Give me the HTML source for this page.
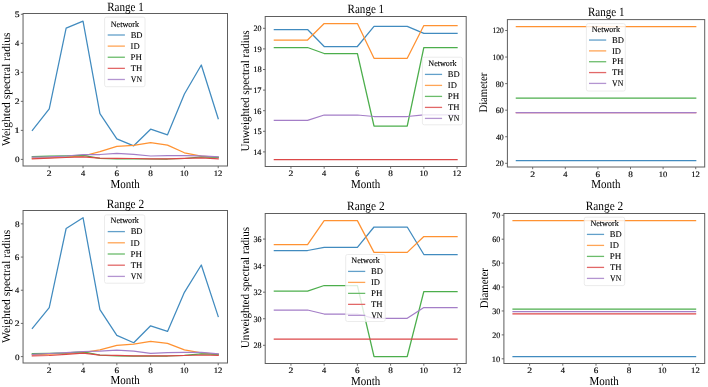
<!DOCTYPE html>
<html><head><meta charset="utf-8"><title>Network spectral radius and diameter by month</title>
<style>
html,body{margin:0;padding:0;background:#fff;}
body{width:708px;height:387px;overflow:hidden;}
svg{display:block;will-change:transform;}
text{font-family:"Liberation Serif",serif;fill:#000;text-rendering:geometricPrecision;}
.tk{stroke:#000;stroke-width:0.15px;}
.nw{stroke:#000;stroke-width:0.12px;}
.lg{stroke:#000;stroke-width:0.1px;}
</style></head><body>
<svg width="708" height="387" viewBox="0 0 708 387">
<rect width="708" height="387" fill="#fff"/>
<polyline points="32.34,130.3 49.24,108.9 66.14,28.1 83.03,21.2 99.93,113.7 116.83,138.9 133.72,145.8 150.62,129.2 167.52,134.8 184.41,94 201.31,65 218.21,118.6" fill="none" stroke="#418bbf" stroke-width="1.25" stroke-linejoin="round" stroke-linecap="square"/>
<polyline points="32.34,158 49.24,157.6 66.14,157 83.03,156 99.93,151.7 116.83,146.3 133.72,145.4 150.62,142.6 167.52,145.1 184.41,152.8 201.31,156.2 218.21,157.4" fill="none" stroke="#ff9232" stroke-width="1.25" stroke-linejoin="round" stroke-linecap="square"/>
<polyline points="32.34,156.5 49.24,156.2 66.14,155.9 83.03,155.3 99.93,158.3 116.83,159 133.72,158.9 150.62,159 167.52,159 184.41,158.5 201.31,156.8 218.21,157.3" fill="none" stroke="#4cae4c" stroke-width="1.25" stroke-linejoin="round" stroke-linecap="square"/>
<polyline points="32.34,158.9 49.24,158.2 66.14,157.5 83.03,156.8 99.93,158.2 116.83,158.4 133.72,158.5 150.62,158.8 167.52,158.8 184.41,158.3 201.31,157.9 218.21,158.8" fill="none" stroke="#dc4748" stroke-width="1.25" stroke-linejoin="round" stroke-linecap="square"/>
<polyline points="32.34,157.2 49.24,156.8 66.14,156 83.03,154.5 99.93,154.5 116.83,153.3 133.72,154.3 150.62,156 167.52,155.7 184.41,155.6 201.31,155.8 218.21,156.9" fill="none" stroke="#a47ec7" stroke-width="1.25" stroke-linejoin="round" stroke-linecap="square"/>
<rect x="104.6" y="17.1" width="40.4" height="69.6" rx="1.8" fill="#fff" fill-opacity="0.8" stroke="#e6e6e6" stroke-width="0.75"/>
<text x="110.72" y="26.5" font-size="8.5" textLength="28.33" lengthAdjust="spacingAndGlyphs" class="nw">Network</text>
<line x1="107.7" y1="35" x2="124.9" y2="35" stroke="#62a0ca" stroke-width="1.3"/>
<text x="130.65" y="37.75" font-size="8.8" textLength="11.89" lengthAdjust="spacingAndGlyphs" class="lg">BD</text>
<line x1="107.7" y1="46.12" x2="124.9" y2="46.12" stroke="#ffa556" stroke-width="1.3"/>
<text x="130.59" y="48.87" font-size="8.8" textLength="9.05" lengthAdjust="spacingAndGlyphs" class="lg">ID</text>
<line x1="107.7" y1="57.24" x2="124.9" y2="57.24" stroke="#6bbc6b" stroke-width="1.3"/>
<text x="130.64" y="59.99" font-size="8.8" textLength="11.42" lengthAdjust="spacingAndGlyphs" class="lg">PH</text>
<line x1="107.7" y1="68.36" x2="124.9" y2="68.36" stroke="#e26868" stroke-width="1.3"/>
<text x="130.74" y="71.11" font-size="8.8" textLength="11.51" lengthAdjust="spacingAndGlyphs" class="lg">TH</text>
<line x1="107.7" y1="79.48" x2="124.9" y2="79.48" stroke="#b495d1" stroke-width="1.3"/>
<text x="130.81" y="82.23" font-size="8.8" textLength="11.27" lengthAdjust="spacingAndGlyphs" class="lg">VN</text>
<rect x="23.05" y="13.5" width="204.45" height="152.5" fill="none" stroke="#5e5e5e" stroke-width="1.0"/>
<line x1="20.85" y1="159.4" x2="23.05" y2="159.4" stroke="#5e5e5e" stroke-width="0.9"/>
<text x="14.9" y="162.35" font-size="8.3" textLength="4.6" lengthAdjust="spacingAndGlyphs" class="tk">0</text>
<line x1="20.85" y1="130.38" x2="23.05" y2="130.38" stroke="#5e5e5e" stroke-width="0.9"/>
<text x="14.28" y="133.33" font-size="8.3" textLength="5.54" lengthAdjust="spacingAndGlyphs" class="tk">1</text>
<line x1="20.85" y1="101.36" x2="23.05" y2="101.36" stroke="#5e5e5e" stroke-width="0.9"/>
<text x="14.82" y="104.31" font-size="8.3" textLength="4.86" lengthAdjust="spacingAndGlyphs" class="tk">2</text>
<line x1="20.85" y1="72.34" x2="23.05" y2="72.34" stroke="#5e5e5e" stroke-width="0.9"/>
<text x="14.8" y="75.29" font-size="8.3" textLength="4.72" lengthAdjust="spacingAndGlyphs" class="tk">3</text>
<line x1="20.85" y1="43.32" x2="23.05" y2="43.32" stroke="#5e5e5e" stroke-width="0.9"/>
<text x="15.09" y="46.27" font-size="8.3" textLength="4.19" lengthAdjust="spacingAndGlyphs" class="tk">4</text>
<line x1="20.85" y1="14.3" x2="23.05" y2="14.3" stroke="#5e5e5e" stroke-width="0.9"/>
<text x="14.69" y="17.25" font-size="8.3" textLength="4.84" lengthAdjust="spacingAndGlyphs" class="tk">5</text>
<line x1="49.24" y1="166" x2="49.24" y2="168.2" stroke="#5e5e5e" stroke-width="0.9"/>
<text x="46.86" y="175.6" font-size="8.3" textLength="4.86" lengthAdjust="spacingAndGlyphs" class="tk">2</text>
<line x1="83.03" y1="166" x2="83.03" y2="168.2" stroke="#5e5e5e" stroke-width="0.9"/>
<text x="80.92" y="175.6" font-size="8.3" textLength="4.19" lengthAdjust="spacingAndGlyphs" class="tk">4</text>
<line x1="116.83" y1="166" x2="116.83" y2="168.2" stroke="#5e5e5e" stroke-width="0.9"/>
<text x="114.48" y="175.6" font-size="8.3" textLength="4.56" lengthAdjust="spacingAndGlyphs" class="tk">6</text>
<line x1="150.62" y1="166" x2="150.62" y2="168.2" stroke="#5e5e5e" stroke-width="0.9"/>
<text x="148.32" y="175.6" font-size="8.3" textLength="4.6" lengthAdjust="spacingAndGlyphs" class="tk">8</text>
<line x1="184.41" y1="166" x2="184.41" y2="168.2" stroke="#5e5e5e" stroke-width="0.9"/>
<text x="179.97" y="175.6" font-size="8.3" textLength="8.47" lengthAdjust="spacingAndGlyphs" class="tk">10</text>
<line x1="218.21" y1="166" x2="218.21" y2="168.2" stroke="#5e5e5e" stroke-width="0.9"/>
<text x="213.75" y="175.6" font-size="8.3" textLength="8.64" lengthAdjust="spacingAndGlyphs" class="tk">12</text>
<text x="107.16" y="10.7" font-size="12.5" textLength="36.58" lengthAdjust="spacingAndGlyphs">Range 1</text>
<text x="110.56" y="187.5" font-size="12.1" textLength="29.26" lengthAdjust="spacingAndGlyphs">Month</text>
<text transform="translate(10.1 146.01) rotate(-90)" x="0" y="0" font-size="11.7" textLength="113.42" lengthAdjust="spacingAndGlyphs">Weighted spectral radius</text>
<polyline points="274.34,29.5 290.95,29.5 307.56,29.5 324.17,46.5 340.78,46.5 357.39,46.5 374.01,26.4 390.62,26.4 407.23,26.4 423.84,33.3 440.45,33.3 457.06,33.3" fill="none" stroke="#418bbf" stroke-width="1.25" stroke-linejoin="round" stroke-linecap="square"/>
<polyline points="274.34,40 290.95,40 307.56,40 324.17,23.5 340.78,23.5 357.39,23.5 374.01,58.3 390.62,58.3 407.23,58.3 423.84,25.5 440.45,25.5 457.06,25.5" fill="none" stroke="#ff9232" stroke-width="1.25" stroke-linejoin="round" stroke-linecap="square"/>
<polyline points="274.34,47.5 290.95,47.5 307.56,47.5 324.17,53.5 340.78,53.5 357.39,53.5 374.01,126 390.62,126 407.23,126 423.84,47.5 440.45,47.5 457.06,47.5" fill="none" stroke="#4cae4c" stroke-width="1.25" stroke-linejoin="round" stroke-linecap="square"/>
<polyline points="274.34,159.5 290.95,159.5 307.56,159.5 324.17,159.5 340.78,159.5 357.39,159.5 374.01,159.5 390.62,159.5 407.23,159.5 423.84,159.5 440.45,159.5 457.06,159.5" fill="none" stroke="#dc4748" stroke-width="1.25" stroke-linejoin="round" stroke-linecap="square"/>
<polyline points="274.34,120.4 290.95,120.4 307.56,120.4 324.17,115 340.78,115 357.39,115 374.01,116.5 390.62,116.5 407.23,116.5 423.84,114.8 440.45,114.8 457.06,114.8" fill="none" stroke="#a47ec7" stroke-width="1.25" stroke-linejoin="round" stroke-linecap="square"/>
<rect x="422.4" y="57.2" width="40" height="67.6" rx="1.8" fill="#fff" fill-opacity="0.8" stroke="#e6e6e6" stroke-width="0.75"/>
<text x="428.32" y="65.9" font-size="8.5" textLength="28.33" lengthAdjust="spacingAndGlyphs" class="nw">Network</text>
<line x1="424.9" y1="74.4" x2="442.1" y2="74.4" stroke="#62a0ca" stroke-width="1.3"/>
<text x="447.85" y="77.15" font-size="8.8" textLength="11.89" lengthAdjust="spacingAndGlyphs" class="lg">BD</text>
<line x1="424.9" y1="85.4" x2="442.1" y2="85.4" stroke="#ffa556" stroke-width="1.3"/>
<text x="447.79" y="88.15" font-size="8.8" textLength="9.05" lengthAdjust="spacingAndGlyphs" class="lg">ID</text>
<line x1="424.9" y1="96.4" x2="442.1" y2="96.4" stroke="#6bbc6b" stroke-width="1.3"/>
<text x="447.84" y="99.15" font-size="8.8" textLength="11.42" lengthAdjust="spacingAndGlyphs" class="lg">PH</text>
<line x1="424.9" y1="107.4" x2="442.1" y2="107.4" stroke="#e26868" stroke-width="1.3"/>
<text x="447.94" y="110.15" font-size="8.8" textLength="11.51" lengthAdjust="spacingAndGlyphs" class="lg">TH</text>
<line x1="424.9" y1="118.4" x2="442.1" y2="118.4" stroke="#b495d1" stroke-width="1.3"/>
<text x="448.01" y="121.15" font-size="8.8" textLength="11.27" lengthAdjust="spacingAndGlyphs" class="lg">VN</text>
<rect x="265.2" y="16.5" width="201" height="150" fill="none" stroke="#5e5e5e" stroke-width="1.0"/>
<line x1="263" y1="151.9" x2="265.2" y2="151.9" stroke="#5e5e5e" stroke-width="0.9"/>
<text x="253.17" y="154.85" font-size="8.3" textLength="8.25" lengthAdjust="spacingAndGlyphs" class="tk">14</text>
<line x1="263" y1="131.3" x2="265.2" y2="131.3" stroke="#5e5e5e" stroke-width="0.9"/>
<text x="253.16" y="134.25" font-size="8.3" textLength="8.48" lengthAdjust="spacingAndGlyphs" class="tk">15</text>
<line x1="263" y1="110.7" x2="265.2" y2="110.7" stroke="#5e5e5e" stroke-width="0.9"/>
<text x="253.16" y="113.65" font-size="8.3" textLength="8.39" lengthAdjust="spacingAndGlyphs" class="tk">16</text>
<line x1="263" y1="90.1" x2="265.2" y2="90.1" stroke="#5e5e5e" stroke-width="0.9"/>
<text x="253.16" y="93.05" font-size="8.3" textLength="8.38" lengthAdjust="spacingAndGlyphs" class="tk">17</text>
<line x1="263" y1="69.5" x2="265.2" y2="69.5" stroke="#5e5e5e" stroke-width="0.9"/>
<text x="253.16" y="72.45" font-size="8.3" textLength="8.47" lengthAdjust="spacingAndGlyphs" class="tk">18</text>
<line x1="263" y1="48.9" x2="265.2" y2="48.9" stroke="#5e5e5e" stroke-width="0.9"/>
<text x="253.15" y="51.85" font-size="8.3" textLength="8.5" lengthAdjust="spacingAndGlyphs" class="tk">19</text>
<line x1="263" y1="28.3" x2="265.2" y2="28.3" stroke="#5e5e5e" stroke-width="0.9"/>
<text x="253.55" y="31.25" font-size="8.3" textLength="8.06" lengthAdjust="spacingAndGlyphs" class="tk">20</text>
<line x1="290.95" y1="166.5" x2="290.95" y2="168.7" stroke="#5e5e5e" stroke-width="0.9"/>
<text x="288.57" y="176.1" font-size="8.3" textLength="4.86" lengthAdjust="spacingAndGlyphs" class="tk">2</text>
<line x1="324.17" y1="166.5" x2="324.17" y2="168.7" stroke="#5e5e5e" stroke-width="0.9"/>
<text x="322.06" y="176.1" font-size="8.3" textLength="4.19" lengthAdjust="spacingAndGlyphs" class="tk">4</text>
<line x1="357.39" y1="166.5" x2="357.39" y2="168.7" stroke="#5e5e5e" stroke-width="0.9"/>
<text x="355.05" y="176.1" font-size="8.3" textLength="4.56" lengthAdjust="spacingAndGlyphs" class="tk">6</text>
<line x1="390.62" y1="166.5" x2="390.62" y2="168.7" stroke="#5e5e5e" stroke-width="0.9"/>
<text x="388.32" y="176.1" font-size="8.3" textLength="4.6" lengthAdjust="spacingAndGlyphs" class="tk">8</text>
<line x1="423.84" y1="166.5" x2="423.84" y2="168.7" stroke="#5e5e5e" stroke-width="0.9"/>
<text x="419.4" y="176.1" font-size="8.3" textLength="8.47" lengthAdjust="spacingAndGlyphs" class="tk">10</text>
<line x1="457.06" y1="166.5" x2="457.06" y2="168.7" stroke="#5e5e5e" stroke-width="0.9"/>
<text x="452.6" y="176.1" font-size="8.3" textLength="8.64" lengthAdjust="spacingAndGlyphs" class="tk">12</text>
<text x="347.58" y="13.4" font-size="12.5" textLength="36.58" lengthAdjust="spacingAndGlyphs">Range 1</text>
<text x="350.98" y="187.5" font-size="12.1" textLength="29.26" lengthAdjust="spacingAndGlyphs">Month</text>
<text transform="translate(248.6 151.53) rotate(-90)" x="0" y="0" font-size="11.7" textLength="121.13" lengthAdjust="spacingAndGlyphs">Unweighted spectral radius</text>
<polyline points="516.37,160.5 532.67,160.5 548.98,160.5 565.29,160.5 581.59,160.5 597.9,160.5 614.2,160.5 630.51,160.5 646.81,160.5 663.12,160.5 679.43,160.5 695.73,160.5" fill="none" stroke="#418bbf" stroke-width="1.25" stroke-linejoin="round" stroke-linecap="square"/>
<polyline points="516.37,26.5 532.67,26.5 548.98,26.5 565.29,26.5 581.59,26.5 597.9,26.5 614.2,26.5 630.51,26.5 646.81,26.5 663.12,26.5 679.43,26.5 695.73,26.5" fill="none" stroke="#ff9232" stroke-width="1.25" stroke-linejoin="round" stroke-linecap="square"/>
<polyline points="516.37,98 532.67,98 548.98,98 565.29,98 581.59,98 597.9,98 614.2,98 630.51,98 646.81,98 663.12,98 679.43,98 695.73,98" fill="none" stroke="#4cae4c" stroke-width="1.25" stroke-linejoin="round" stroke-linecap="square"/>
<polyline points="516.37,112.5 532.67,112.5 548.98,112.5 565.29,112.5 581.59,112.5 597.9,112.5 614.2,112.5 630.51,112.5 646.81,112.5 663.12,112.5 679.43,112.5 695.73,112.5" fill="none" stroke="#dc4748" stroke-width="1.25" stroke-linejoin="round" stroke-linecap="square"/>
<polyline points="516.37,112.5 532.67,112.5 548.98,112.5 565.29,112.5 581.59,112.5 597.9,112.5 614.2,112.5 630.51,112.5 646.81,112.5 663.12,112.5 679.43,112.5 695.73,112.5" fill="none" stroke="#a47ec7" stroke-width="1.25" stroke-linejoin="round" stroke-linecap="square"/>
<rect x="586.4" y="23.6" width="38.9" height="67.4" rx="1.8" fill="#fff" fill-opacity="0.8" stroke="#e6e6e6" stroke-width="0.75"/>
<text x="591.77" y="31.55" font-size="8.5" textLength="28.33" lengthAdjust="spacingAndGlyphs" class="nw">Network</text>
<line x1="589" y1="40.05" x2="606.2" y2="40.05" stroke="#62a0ca" stroke-width="1.3"/>
<text x="611.95" y="42.8" font-size="8.8" textLength="11.89" lengthAdjust="spacingAndGlyphs" class="lg">BD</text>
<line x1="589" y1="50.89" x2="606.2" y2="50.89" stroke="#ffa556" stroke-width="1.3"/>
<text x="611.89" y="53.64" font-size="8.8" textLength="9.05" lengthAdjust="spacingAndGlyphs" class="lg">ID</text>
<line x1="589" y1="61.73" x2="606.2" y2="61.73" stroke="#6bbc6b" stroke-width="1.3"/>
<text x="611.94" y="64.48" font-size="8.8" textLength="11.42" lengthAdjust="spacingAndGlyphs" class="lg">PH</text>
<line x1="589" y1="72.57" x2="606.2" y2="72.57" stroke="#e26868" stroke-width="1.3"/>
<text x="612.04" y="75.32" font-size="8.8" textLength="11.51" lengthAdjust="spacingAndGlyphs" class="lg">TH</text>
<line x1="589" y1="83.41" x2="606.2" y2="83.41" stroke="#b495d1" stroke-width="1.3"/>
<text x="612.11" y="86.16" font-size="8.8" textLength="11.27" lengthAdjust="spacingAndGlyphs" class="lg">VN</text>
<rect x="507.4" y="19.6" width="197.3" height="147.4" fill="none" stroke="#5e5e5e" stroke-width="1.0"/>
<line x1="505.2" y1="163.3" x2="507.4" y2="163.3" stroke="#5e5e5e" stroke-width="0.9"/>
<text x="495.75" y="166.25" font-size="8.3" textLength="8.06" lengthAdjust="spacingAndGlyphs" class="tk">20</text>
<line x1="505.2" y1="136.74" x2="507.4" y2="136.74" stroke="#5e5e5e" stroke-width="0.9"/>
<text x="495.95" y="139.69" font-size="8.3" textLength="7.85" lengthAdjust="spacingAndGlyphs" class="tk">40</text>
<line x1="505.2" y1="110.18" x2="507.4" y2="110.18" stroke="#5e5e5e" stroke-width="0.9"/>
<text x="495.75" y="113.13" font-size="8.3" textLength="8.05" lengthAdjust="spacingAndGlyphs" class="tk">60</text>
<line x1="505.2" y1="83.62" x2="507.4" y2="83.62" stroke="#5e5e5e" stroke-width="0.9"/>
<text x="495.79" y="86.57" font-size="8.3" textLength="8.01" lengthAdjust="spacingAndGlyphs" class="tk">80</text>
<line x1="505.2" y1="57.06" x2="507.4" y2="57.06" stroke="#5e5e5e" stroke-width="0.9"/>
<text x="492.54" y="60.01" font-size="8.3" textLength="11.24" lengthAdjust="spacingAndGlyphs" class="tk">100</text>
<line x1="505.2" y1="30.5" x2="507.4" y2="30.5" stroke="#5e5e5e" stroke-width="0.9"/>
<text x="492.54" y="33.45" font-size="8.3" textLength="11.24" lengthAdjust="spacingAndGlyphs" class="tk">120</text>
<line x1="532.67" y1="167" x2="532.67" y2="169.2" stroke="#5e5e5e" stroke-width="0.9"/>
<text x="530.3" y="176.6" font-size="8.3" textLength="4.86" lengthAdjust="spacingAndGlyphs" class="tk">2</text>
<line x1="565.29" y1="167" x2="565.29" y2="169.2" stroke="#5e5e5e" stroke-width="0.9"/>
<text x="563.17" y="176.6" font-size="8.3" textLength="4.19" lengthAdjust="spacingAndGlyphs" class="tk">4</text>
<line x1="597.9" y1="167" x2="597.9" y2="169.2" stroke="#5e5e5e" stroke-width="0.9"/>
<text x="595.55" y="176.6" font-size="8.3" textLength="4.56" lengthAdjust="spacingAndGlyphs" class="tk">6</text>
<line x1="630.51" y1="167" x2="630.51" y2="169.2" stroke="#5e5e5e" stroke-width="0.9"/>
<text x="628.21" y="176.6" font-size="8.3" textLength="4.6" lengthAdjust="spacingAndGlyphs" class="tk">8</text>
<line x1="663.12" y1="167" x2="663.12" y2="169.2" stroke="#5e5e5e" stroke-width="0.9"/>
<text x="658.68" y="176.6" font-size="8.3" textLength="8.47" lengthAdjust="spacingAndGlyphs" class="tk">10</text>
<line x1="695.73" y1="167" x2="695.73" y2="169.2" stroke="#5e5e5e" stroke-width="0.9"/>
<text x="691.27" y="176.6" font-size="8.3" textLength="8.64" lengthAdjust="spacingAndGlyphs" class="tk">12</text>
<text x="587.93" y="16.3" font-size="12.5" textLength="36.58" lengthAdjust="spacingAndGlyphs">Range 1</text>
<text x="591.33" y="187.5" font-size="12.1" textLength="29.26" lengthAdjust="spacingAndGlyphs">Month</text>
<text transform="translate(487.3 112.61) rotate(-90)" x="0" y="0" font-size="11.7" textLength="39.9" lengthAdjust="spacingAndGlyphs">Diameter</text>
<polyline points="32.34,328.3 49.24,307.7 66.14,228.5 83.03,217.7 99.93,309.6 116.83,335.4 133.72,342.7 150.62,325.8 167.52,331.4 184.41,292.3 201.31,265 218.21,316.5" fill="none" stroke="#418bbf" stroke-width="1.25" stroke-linejoin="round" stroke-linecap="square"/>
<polyline points="32.34,354.7 49.24,354.2 66.14,353.5 83.03,352.6 99.93,349.8 116.83,345.3 133.72,344.1 150.62,341.3 167.52,343.4 184.41,349.9 201.31,352.9 218.21,354.3" fill="none" stroke="#ff9232" stroke-width="1.25" stroke-linejoin="round" stroke-linecap="square"/>
<polyline points="32.34,353.6 49.24,353.3 66.14,352.8 83.03,351.9 99.93,355.1 116.83,355.8 133.72,356.1 150.62,356.1 167.52,356 184.41,355.4 201.31,353.8 218.21,354.3" fill="none" stroke="#4cae4c" stroke-width="1.25" stroke-linejoin="round" stroke-linecap="square"/>
<polyline points="32.34,355.8 49.24,355.5 66.14,354.4 83.03,353.1 99.93,355.1 116.83,355.4 133.72,355.8 150.62,355.8 167.52,355.8 184.41,355.5 201.31,355 218.21,355.4" fill="none" stroke="#dc4748" stroke-width="1.25" stroke-linejoin="round" stroke-linecap="square"/>
<polyline points="32.34,354.3 49.24,353.5 66.14,352.6 83.03,351.5 99.93,351.2 116.83,350.2 133.72,351.2 150.62,353.3 167.52,352.6 184.41,352.3 201.31,352.4 218.21,353.8" fill="none" stroke="#a47ec7" stroke-width="1.25" stroke-linejoin="round" stroke-linecap="square"/>
<rect x="104.5" y="214.9" width="40.3" height="68.3" rx="1.8" fill="#fff" fill-opacity="0.8" stroke="#e6e6e6" stroke-width="0.75"/>
<text x="110.57" y="223.1" font-size="8.5" textLength="28.33" lengthAdjust="spacingAndGlyphs" class="nw">Network</text>
<line x1="107.7" y1="231.6" x2="124.9" y2="231.6" stroke="#62a0ca" stroke-width="1.3"/>
<text x="130.65" y="234.35" font-size="8.8" textLength="11.89" lengthAdjust="spacingAndGlyphs" class="lg">BD</text>
<line x1="107.7" y1="242.8" x2="124.9" y2="242.8" stroke="#ffa556" stroke-width="1.3"/>
<text x="130.59" y="245.55" font-size="8.8" textLength="9.05" lengthAdjust="spacingAndGlyphs" class="lg">ID</text>
<line x1="107.7" y1="254" x2="124.9" y2="254" stroke="#6bbc6b" stroke-width="1.3"/>
<text x="130.64" y="256.75" font-size="8.8" textLength="11.42" lengthAdjust="spacingAndGlyphs" class="lg">PH</text>
<line x1="107.7" y1="265.2" x2="124.9" y2="265.2" stroke="#e26868" stroke-width="1.3"/>
<text x="130.74" y="267.95" font-size="8.8" textLength="11.51" lengthAdjust="spacingAndGlyphs" class="lg">TH</text>
<line x1="107.7" y1="276.4" x2="124.9" y2="276.4" stroke="#b495d1" stroke-width="1.3"/>
<text x="130.81" y="279.15" font-size="8.8" textLength="11.27" lengthAdjust="spacingAndGlyphs" class="lg">VN</text>
<rect x="23.05" y="210.5" width="204.45" height="152.5" fill="none" stroke="#5e5e5e" stroke-width="1.0"/>
<line x1="20.85" y1="356.6" x2="23.05" y2="356.6" stroke="#5e5e5e" stroke-width="0.9"/>
<text x="14.9" y="359.55" font-size="8.3" textLength="4.6" lengthAdjust="spacingAndGlyphs" class="tk">0</text>
<line x1="20.85" y1="323.42" x2="23.05" y2="323.42" stroke="#5e5e5e" stroke-width="0.9"/>
<text x="14.82" y="326.37" font-size="8.3" textLength="4.86" lengthAdjust="spacingAndGlyphs" class="tk">2</text>
<line x1="20.85" y1="290.24" x2="23.05" y2="290.24" stroke="#5e5e5e" stroke-width="0.9"/>
<text x="15.09" y="293.19" font-size="8.3" textLength="4.19" lengthAdjust="spacingAndGlyphs" class="tk">4</text>
<line x1="20.85" y1="257.06" x2="23.05" y2="257.06" stroke="#5e5e5e" stroke-width="0.9"/>
<text x="14.86" y="260.01" font-size="8.3" textLength="4.56" lengthAdjust="spacingAndGlyphs" class="tk">6</text>
<line x1="20.85" y1="223.88" x2="23.05" y2="223.88" stroke="#5e5e5e" stroke-width="0.9"/>
<text x="14.9" y="226.83" font-size="8.3" textLength="4.6" lengthAdjust="spacingAndGlyphs" class="tk">8</text>
<line x1="49.24" y1="363" x2="49.24" y2="365.2" stroke="#5e5e5e" stroke-width="0.9"/>
<text x="46.86" y="372.6" font-size="8.3" textLength="4.86" lengthAdjust="spacingAndGlyphs" class="tk">2</text>
<line x1="83.03" y1="363" x2="83.03" y2="365.2" stroke="#5e5e5e" stroke-width="0.9"/>
<text x="80.92" y="372.6" font-size="8.3" textLength="4.19" lengthAdjust="spacingAndGlyphs" class="tk">4</text>
<line x1="116.83" y1="363" x2="116.83" y2="365.2" stroke="#5e5e5e" stroke-width="0.9"/>
<text x="114.48" y="372.6" font-size="8.3" textLength="4.56" lengthAdjust="spacingAndGlyphs" class="tk">6</text>
<line x1="150.62" y1="363" x2="150.62" y2="365.2" stroke="#5e5e5e" stroke-width="0.9"/>
<text x="148.32" y="372.6" font-size="8.3" textLength="4.6" lengthAdjust="spacingAndGlyphs" class="tk">8</text>
<line x1="184.41" y1="363" x2="184.41" y2="365.2" stroke="#5e5e5e" stroke-width="0.9"/>
<text x="179.97" y="372.6" font-size="8.3" textLength="8.47" lengthAdjust="spacingAndGlyphs" class="tk">10</text>
<line x1="218.21" y1="363" x2="218.21" y2="365.2" stroke="#5e5e5e" stroke-width="0.9"/>
<text x="213.75" y="372.6" font-size="8.3" textLength="8.64" lengthAdjust="spacingAndGlyphs" class="tk">12</text>
<text x="106.65" y="207.6" font-size="12.5" textLength="37.55" lengthAdjust="spacingAndGlyphs">Range 2</text>
<text x="110.56" y="384.4" font-size="12.1" textLength="29.26" lengthAdjust="spacingAndGlyphs">Month</text>
<text transform="translate(10.1 342.91) rotate(-90)" x="0" y="0" font-size="11.7" textLength="113.22" lengthAdjust="spacingAndGlyphs">Weighted spectral radius</text>
<polyline points="274.34,250.5 290.95,250.5 307.56,250.5 324.17,247.4 340.78,247.4 357.39,247.4 374.01,227 390.62,227 407.23,227 423.84,254.5 440.45,254.5 457.06,254.5" fill="none" stroke="#418bbf" stroke-width="1.25" stroke-linejoin="round" stroke-linecap="square"/>
<polyline points="274.34,244.6 290.95,244.6 307.56,244.6 324.17,220.6 340.78,220.6 357.39,220.6 374.01,252.4 390.62,252.4 407.23,252.4 423.84,236.5 440.45,236.5 457.06,236.5" fill="none" stroke="#ff9232" stroke-width="1.25" stroke-linejoin="round" stroke-linecap="square"/>
<polyline points="274.34,291.2 290.95,291.2 307.56,291.2 324.17,285.5 340.78,285.5 357.39,285.5 374.01,356.5 390.62,356.5 407.23,356.5 423.84,291.5 440.45,291.5 457.06,291.5" fill="none" stroke="#4cae4c" stroke-width="1.25" stroke-linejoin="round" stroke-linecap="square"/>
<polyline points="274.34,339 290.95,339 307.56,339 324.17,339 340.78,339 357.39,339 374.01,339 390.62,339 407.23,339 423.84,339 440.45,339 457.06,339" fill="none" stroke="#dc4748" stroke-width="1.25" stroke-linejoin="round" stroke-linecap="square"/>
<polyline points="274.34,310 290.95,310 307.56,310 324.17,314 340.78,314 357.39,314 374.01,318.3 390.62,318.3 407.23,318.3 423.84,307.5 440.45,307.5 457.06,307.5" fill="none" stroke="#a47ec7" stroke-width="1.25" stroke-linejoin="round" stroke-linecap="square"/>
<rect x="345.7" y="254.5" width="39.5" height="67" rx="1.8" fill="#fff" fill-opacity="0.8" stroke="#e6e6e6" stroke-width="0.75"/>
<text x="351.37" y="262.9" font-size="8.5" textLength="28.33" lengthAdjust="spacingAndGlyphs" class="nw">Network</text>
<line x1="348.05" y1="271.4" x2="365.25" y2="271.4" stroke="#62a0ca" stroke-width="1.3"/>
<text x="371" y="274.15" font-size="8.8" textLength="11.89" lengthAdjust="spacingAndGlyphs" class="lg">BD</text>
<line x1="348.05" y1="282.39" x2="365.25" y2="282.39" stroke="#ffa556" stroke-width="1.3"/>
<text x="370.94" y="285.14" font-size="8.8" textLength="9.05" lengthAdjust="spacingAndGlyphs" class="lg">ID</text>
<line x1="348.05" y1="293.38" x2="365.25" y2="293.38" stroke="#6bbc6b" stroke-width="1.3"/>
<text x="370.99" y="296.13" font-size="8.8" textLength="11.42" lengthAdjust="spacingAndGlyphs" class="lg">PH</text>
<line x1="348.05" y1="304.37" x2="365.25" y2="304.37" stroke="#e26868" stroke-width="1.3"/>
<text x="371.09" y="307.12" font-size="8.8" textLength="11.51" lengthAdjust="spacingAndGlyphs" class="lg">TH</text>
<line x1="348.05" y1="315.36" x2="365.25" y2="315.36" stroke="#b495d1" stroke-width="1.3"/>
<text x="371.16" y="318.11" font-size="8.8" textLength="11.27" lengthAdjust="spacingAndGlyphs" class="lg">VN</text>
<rect x="265.2" y="213.5" width="201" height="150" fill="none" stroke="#5e5e5e" stroke-width="1.0"/>
<line x1="263" y1="345.3" x2="265.2" y2="345.3" stroke="#5e5e5e" stroke-width="0.9"/>
<text x="253.55" y="348.25" font-size="8.3" textLength="8.06" lengthAdjust="spacingAndGlyphs" class="tk">28</text>
<line x1="263" y1="318.74" x2="265.2" y2="318.74" stroke="#5e5e5e" stroke-width="0.9"/>
<text x="253.51" y="321.69" font-size="8.3" textLength="8.1" lengthAdjust="spacingAndGlyphs" class="tk">30</text>
<line x1="263" y1="292.18" x2="265.2" y2="292.18" stroke="#5e5e5e" stroke-width="0.9"/>
<text x="253.51" y="295.13" font-size="8.3" textLength="8.25" lengthAdjust="spacingAndGlyphs" class="tk">32</text>
<line x1="263" y1="265.62" x2="265.2" y2="265.62" stroke="#5e5e5e" stroke-width="0.9"/>
<text x="253.52" y="268.57" font-size="8.3" textLength="7.9" lengthAdjust="spacingAndGlyphs" class="tk">34</text>
<line x1="263" y1="239.06" x2="265.2" y2="239.06" stroke="#5e5e5e" stroke-width="0.9"/>
<text x="253.52" y="242.01" font-size="8.3" textLength="8.02" lengthAdjust="spacingAndGlyphs" class="tk">36</text>
<line x1="290.95" y1="363.5" x2="290.95" y2="365.7" stroke="#5e5e5e" stroke-width="0.9"/>
<text x="288.57" y="373.1" font-size="8.3" textLength="4.86" lengthAdjust="spacingAndGlyphs" class="tk">2</text>
<line x1="324.17" y1="363.5" x2="324.17" y2="365.7" stroke="#5e5e5e" stroke-width="0.9"/>
<text x="322.06" y="373.1" font-size="8.3" textLength="4.19" lengthAdjust="spacingAndGlyphs" class="tk">4</text>
<line x1="357.39" y1="363.5" x2="357.39" y2="365.7" stroke="#5e5e5e" stroke-width="0.9"/>
<text x="355.05" y="373.1" font-size="8.3" textLength="4.56" lengthAdjust="spacingAndGlyphs" class="tk">6</text>
<line x1="390.62" y1="363.5" x2="390.62" y2="365.7" stroke="#5e5e5e" stroke-width="0.9"/>
<text x="388.32" y="373.1" font-size="8.3" textLength="4.6" lengthAdjust="spacingAndGlyphs" class="tk">8</text>
<line x1="423.84" y1="363.5" x2="423.84" y2="365.7" stroke="#5e5e5e" stroke-width="0.9"/>
<text x="419.4" y="373.1" font-size="8.3" textLength="8.47" lengthAdjust="spacingAndGlyphs" class="tk">10</text>
<line x1="457.06" y1="363.5" x2="457.06" y2="365.7" stroke="#5e5e5e" stroke-width="0.9"/>
<text x="452.6" y="373.1" font-size="8.3" textLength="8.64" lengthAdjust="spacingAndGlyphs" class="tk">12</text>
<text x="347.07" y="210.4" font-size="12.5" textLength="37.55" lengthAdjust="spacingAndGlyphs">Range 2</text>
<text x="350.98" y="384.5" font-size="12.1" textLength="29.26" lengthAdjust="spacingAndGlyphs">Month</text>
<text transform="translate(248.6 348.13) rotate(-90)" x="0" y="0" font-size="11.7" textLength="121.13" lengthAdjust="spacingAndGlyphs">Unweighted spectral radius</text>
<polyline points="513.03,356.5 529.62,356.5 546.22,356.5 562.81,356.5 579.41,356.5 596,356.5 612.6,356.5 629.19,356.5 645.79,356.5 662.38,356.5 678.98,356.5 695.57,356.5" fill="none" stroke="#418bbf" stroke-width="1.25" stroke-linejoin="round" stroke-linecap="square"/>
<polyline points="513.03,220.5 529.62,220.5 546.22,220.5 562.81,220.5 579.41,220.5 596,220.5 612.6,220.5 629.19,220.5 645.79,220.5 662.38,220.5 678.98,220.5 695.57,220.5" fill="none" stroke="#ff9232" stroke-width="1.25" stroke-linejoin="round" stroke-linecap="square"/>
<polyline points="513.03,309 529.62,309 546.22,309 562.81,309 579.41,309 596,309 612.6,309 629.19,309 645.79,309 662.38,309 678.98,309 695.57,309" fill="none" stroke="#4cae4c" stroke-width="1.25" stroke-linejoin="round" stroke-linecap="square"/>
<polyline points="513.03,313.8 529.62,313.8 546.22,313.8 562.81,313.8 579.41,313.8 596,313.8 612.6,313.8 629.19,313.8 645.79,313.8 662.38,313.8 678.98,313.8 695.57,313.8" fill="none" stroke="#dc4748" stroke-width="1.25" stroke-linejoin="round" stroke-linecap="square"/>
<polyline points="513.03,311.5 529.62,311.5 546.22,311.5 562.81,311.5 579.41,311.5 596,311.5 612.6,311.5 629.19,311.5 645.79,311.5 662.38,311.5 678.98,311.5 695.57,311.5" fill="none" stroke="#a47ec7" stroke-width="1.25" stroke-linejoin="round" stroke-linecap="square"/>
<rect x="584.25" y="217.2" width="40.45" height="68.4" rx="1.8" fill="#fff" fill-opacity="0.8" stroke="#e6e6e6" stroke-width="0.75"/>
<text x="590.39" y="225.9" font-size="8.5" textLength="28.33" lengthAdjust="spacingAndGlyphs" class="nw">Network</text>
<line x1="586.9" y1="234.4" x2="604.1" y2="234.4" stroke="#62a0ca" stroke-width="1.3"/>
<text x="609.85" y="237.15" font-size="8.8" textLength="11.89" lengthAdjust="spacingAndGlyphs" class="lg">BD</text>
<line x1="586.9" y1="245.4" x2="604.1" y2="245.4" stroke="#ffa556" stroke-width="1.3"/>
<text x="609.79" y="248.15" font-size="8.8" textLength="9.05" lengthAdjust="spacingAndGlyphs" class="lg">ID</text>
<line x1="586.9" y1="256.4" x2="604.1" y2="256.4" stroke="#6bbc6b" stroke-width="1.3"/>
<text x="609.84" y="259.15" font-size="8.8" textLength="11.42" lengthAdjust="spacingAndGlyphs" class="lg">PH</text>
<line x1="586.9" y1="267.4" x2="604.1" y2="267.4" stroke="#e26868" stroke-width="1.3"/>
<text x="609.94" y="270.15" font-size="8.8" textLength="11.51" lengthAdjust="spacingAndGlyphs" class="lg">TH</text>
<line x1="586.9" y1="278.4" x2="604.1" y2="278.4" stroke="#b495d1" stroke-width="1.3"/>
<text x="610.01" y="281.15" font-size="8.8" textLength="11.27" lengthAdjust="spacingAndGlyphs" class="lg">VN</text>
<rect x="503.9" y="213.5" width="200.8" height="150" fill="none" stroke="#5e5e5e" stroke-width="1.0"/>
<line x1="501.7" y1="358.8" x2="503.9" y2="358.8" stroke="#5e5e5e" stroke-width="0.9"/>
<text x="491.86" y="361.75" font-size="8.3" textLength="8.47" lengthAdjust="spacingAndGlyphs" class="tk">10</text>
<line x1="501.7" y1="334.88" x2="503.9" y2="334.88" stroke="#5e5e5e" stroke-width="0.9"/>
<text x="492.25" y="337.83" font-size="8.3" textLength="8.06" lengthAdjust="spacingAndGlyphs" class="tk">20</text>
<line x1="501.7" y1="310.96" x2="503.9" y2="310.96" stroke="#5e5e5e" stroke-width="0.9"/>
<text x="492.21" y="313.91" font-size="8.3" textLength="8.1" lengthAdjust="spacingAndGlyphs" class="tk">30</text>
<line x1="501.7" y1="287.04" x2="503.9" y2="287.04" stroke="#5e5e5e" stroke-width="0.9"/>
<text x="492.45" y="289.99" font-size="8.3" textLength="7.85" lengthAdjust="spacingAndGlyphs" class="tk">40</text>
<line x1="501.7" y1="263.12" x2="503.9" y2="263.12" stroke="#5e5e5e" stroke-width="0.9"/>
<text x="492.12" y="266.07" font-size="8.3" textLength="8.19" lengthAdjust="spacingAndGlyphs" class="tk">50</text>
<line x1="501.7" y1="239.2" x2="503.9" y2="239.2" stroke="#5e5e5e" stroke-width="0.9"/>
<text x="492.25" y="242.15" font-size="8.3" textLength="8.05" lengthAdjust="spacingAndGlyphs" class="tk">60</text>
<line x1="501.7" y1="215.28" x2="503.9" y2="215.28" stroke="#5e5e5e" stroke-width="0.9"/>
<text x="492.06" y="218.23" font-size="8.3" textLength="8.26" lengthAdjust="spacingAndGlyphs" class="tk">70</text>
<line x1="529.62" y1="363.5" x2="529.62" y2="365.7" stroke="#5e5e5e" stroke-width="0.9"/>
<text x="527.24" y="373.1" font-size="8.3" textLength="4.86" lengthAdjust="spacingAndGlyphs" class="tk">2</text>
<line x1="562.81" y1="363.5" x2="562.81" y2="365.7" stroke="#5e5e5e" stroke-width="0.9"/>
<text x="560.7" y="373.1" font-size="8.3" textLength="4.19" lengthAdjust="spacingAndGlyphs" class="tk">4</text>
<line x1="596" y1="363.5" x2="596" y2="365.7" stroke="#5e5e5e" stroke-width="0.9"/>
<text x="593.66" y="373.1" font-size="8.3" textLength="4.56" lengthAdjust="spacingAndGlyphs" class="tk">6</text>
<line x1="629.19" y1="363.5" x2="629.19" y2="365.7" stroke="#5e5e5e" stroke-width="0.9"/>
<text x="626.89" y="373.1" font-size="8.3" textLength="4.6" lengthAdjust="spacingAndGlyphs" class="tk">8</text>
<line x1="662.38" y1="363.5" x2="662.38" y2="365.7" stroke="#5e5e5e" stroke-width="0.9"/>
<text x="657.94" y="373.1" font-size="8.3" textLength="8.47" lengthAdjust="spacingAndGlyphs" class="tk">10</text>
<line x1="695.57" y1="363.5" x2="695.57" y2="365.7" stroke="#5e5e5e" stroke-width="0.9"/>
<text x="691.11" y="373.1" font-size="8.3" textLength="8.64" lengthAdjust="spacingAndGlyphs" class="tk">12</text>
<text x="585.67" y="210.4" font-size="12.5" textLength="37.55" lengthAdjust="spacingAndGlyphs">Range 2</text>
<text x="589.58" y="384.5" font-size="12.1" textLength="29.26" lengthAdjust="spacingAndGlyphs">Month</text>
<text transform="translate(487.8 308.21) rotate(-90)" x="0" y="0" font-size="11.7" textLength="40.11" lengthAdjust="spacingAndGlyphs">Diameter</text>
</svg>
</body></html>
